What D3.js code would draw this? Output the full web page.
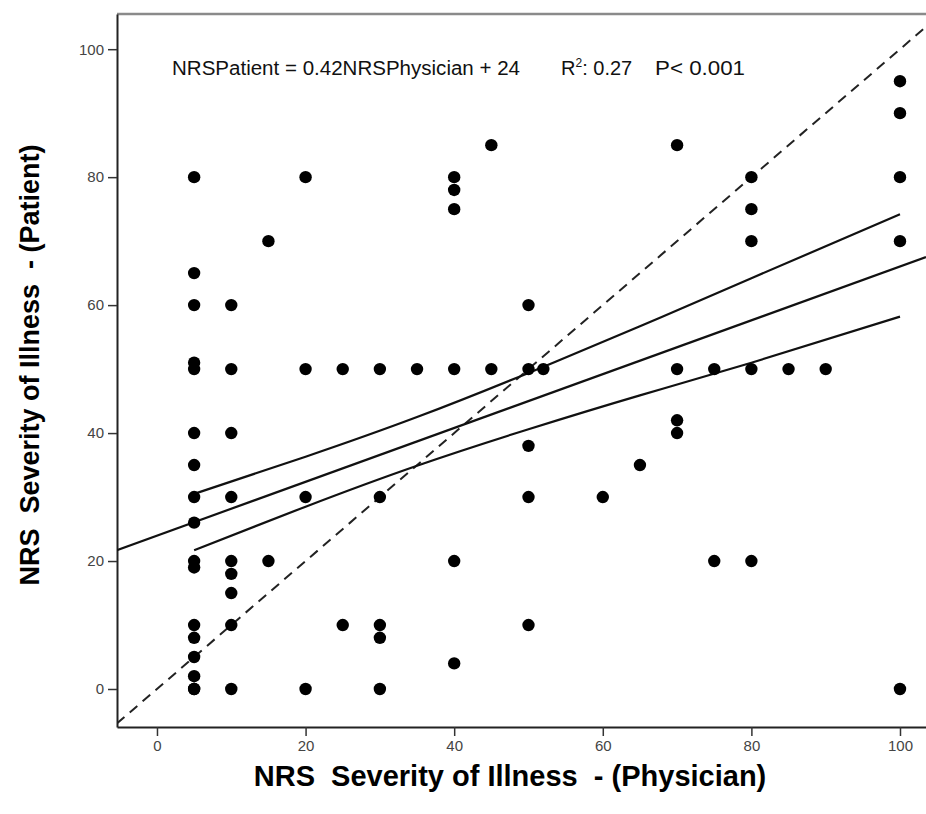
<!DOCTYPE html>
<html>
<head>
<meta charset="utf-8">
<script src="https://cdn.jsdelivr.net/npm/d3@7/dist/d3.min.js"></script>
<style>
  html, body { margin: 0; padding: 0; background: #fff; }
  svg { display: block; }
</style>
</head>
<body>
<svg id="chart" width="926" height="814"></svg>
<script>
// ---- data ----
const physician = [
  5,5,5,5,5,5,5,5,5,5,5,5,5,5,5,5,5,
  10,10,10,10,10,10,10,10,10,
  15,15,
  20,20,20,20,
  25,25,
  30,30,30,30,30,
  35,
  40,40,40,40,40,40,
  45,45,
  50,50,50,50,50,
  52,
  60,
  65,
  70,70,70,70,
  75,75,
  80,80,80,80,80,
  85,
  90,
  100,100,100,100,100
];
const patient = [
  80,65,60,50,51,40,35,30,26,20,19,10,8,5,2,0,0,
  60,50,40,30,20,18,15,10,0,
  70,20,
  80,50,30,0,
  50,10,
  50,30,10,8,0,
  50,
  80,78,75,50,20,4,
  85,50,
  60,50,38,30,10,
  50,
  30,
  35,
  85,50,42,40,
  50,20,
  80,75,70,50,20,
  50,
  50,
  95,90,80,70,0
];
// fitted line and 95% band (read values)
const fitX = [-5.4, 103.5];
const fitY = [21.7, 67.5];
const bandX = [5, 20, 35, 50, 65, 80, 100];
const bandUpper = [30.5, 36.3, 42.5, 49.4, 56.7, 64.2, 74.2];
const bandLower = [21.7, 28.5, 34.9, 40.6, 45.9, 51.0, 58.2];
// reference line y = x
const refX = [-5.4, 103.5];
const refY = [-5.4, 103.5];
const xTicks = [0, 20, 40, 60, 80, 100];
const yTicks = [0, 20, 40, 60, 80, 100];
const xTitle = "NRS  Severity of Illness  - (Physician)";
const yTitle = "NRS  Severity of Illness  - (Patient)";
const eqText = "NRSPatient = 0.42NRSPhysician + 24";
const r2Label = "R";
const r2Value = ": 0.27";
const pText = "P< 0.001";

// ---- drawing ----
const svg = d3.select("#chart");
const L = 117, R = 926, T = 14, B = 727;
const x = d3.scaleLinear().domain([-5.38, 103.5]).range([L, R]);
const y = d3.scaleLinear().domain([-5.94, 105.5]).range([B, T]);

const font = "'Liberation Sans', Arial, sans-serif";

// frame top line
svg.append("line").attr("x1", L).attr("x2", R).attr("y1", T).attr("y2", T)
  .attr("stroke", "#8a8a8a").attr("stroke-width", 2.5);

// axes
const gx = svg.append("g").attr("transform", `translate(0,${B})`)
  .call(d3.axisBottom(x).tickValues(xTicks).tickSize(9).tickSizeOuter(0).tickPadding(4));
const gy = svg.append("g").attr("transform", `translate(${L},0)`)
  .call(d3.axisLeft(y).tickValues(yTicks).tickSize(9).tickSizeOuter(0).tickPadding(4));
[gx, gy].forEach(g => {
  g.select(".domain").attr("stroke", "#222").attr("stroke-width", 2);
  g.selectAll(".tick line").attr("stroke", "#333").attr("stroke-width", 1.5);
  g.selectAll(".tick text").attr("fill", "#444").style("font-family", font).style("font-size", "15px");
});

const clipId = "plotclip";
svg.append("clipPath").attr("id", clipId).append("rect")
  .attr("x", L).attr("y", T).attr("width", R - L).attr("height", B - T);
const plot = svg.append("g").attr("clip-path", `url(#${clipId})`);

// identity dashed line
plot.append("path")
  .datum(refX.map((v, i) => [v, refY[i]]))
  .attr("d", d3.line().x(d => x(d[0])).y(d => y(d[1])))
  .attr("fill", "none").attr("stroke", "#222").attr("stroke-width", 2)
  .attr("stroke-dasharray", "10,7");

// fit line
plot.append("path")
  .datum(fitX.map((v, i) => [v, fitY[i]]))
  .attr("d", d3.line().x(d => x(d[0])).y(d => y(d[1])))
  .attr("fill", "none").attr("stroke", "#111").attr("stroke-width", 2.2);

// confidence band curves
const bandLine = d3.line().curve(d3.curveNatural).x(d => x(d[0])).y(d => y(d[1]));
[bandUpper, bandLower].forEach(arr => {
  plot.append("path")
    .datum(bandX.map((v, i) => [v, arr[i]]))
    .attr("d", bandLine)
    .attr("fill", "none").attr("stroke", "#111").attr("stroke-width", 2.2);
});

// points
plot.selectAll("circle.pt").data(physician.map((v, i) => [v, patient[i]]))
  .join("circle").attr("class", "pt")
  .attr("cx", d => x(d[0])).attr("cy", d => y(d[1])).attr("r", 6.2)
  .attr("fill", "#000");

// annotation
const annStyle = s => s.style("font-family", font).style("font-size", "20px").attr("fill", "#111");
svg.append("text").attr("x", 172).attr("y", 75).call(annStyle)
  .attr("textLength", 348).attr("lengthAdjust", "spacingAndGlyphs").text(eqText);
const r2 = svg.append("text").attr("x", 561).attr("y", 75).call(annStyle);
r2.append("tspan").text(r2Label);
r2.append("tspan").attr("dy", -8).style("font-size", "12px").text("2");
r2.append("tspan").attr("dy", 8).text(r2Value);
svg.append("text").attr("x", 655).attr("y", 75).call(annStyle)
  .attr("textLength", 90).attr("lengthAdjust", "spacingAndGlyphs").text(pText);

// axis titles
svg.append("text").attr("x", 510).attr("y", 786)
  .attr("text-anchor", "middle").style("font-family", font).style("font-weight", "bold")
  .style("font-size", "29px").style("white-space", "pre").attr("fill", "#000").text(xTitle);
svg.append("text").attr("transform", `translate(39,365) rotate(-90)`)
  .attr("text-anchor", "middle").style("font-family", font).style("font-weight", "bold")
  .style("font-size", "27px").style("white-space", "pre").attr("fill", "#000").text(yTitle);
</script>
</body>
</html>
